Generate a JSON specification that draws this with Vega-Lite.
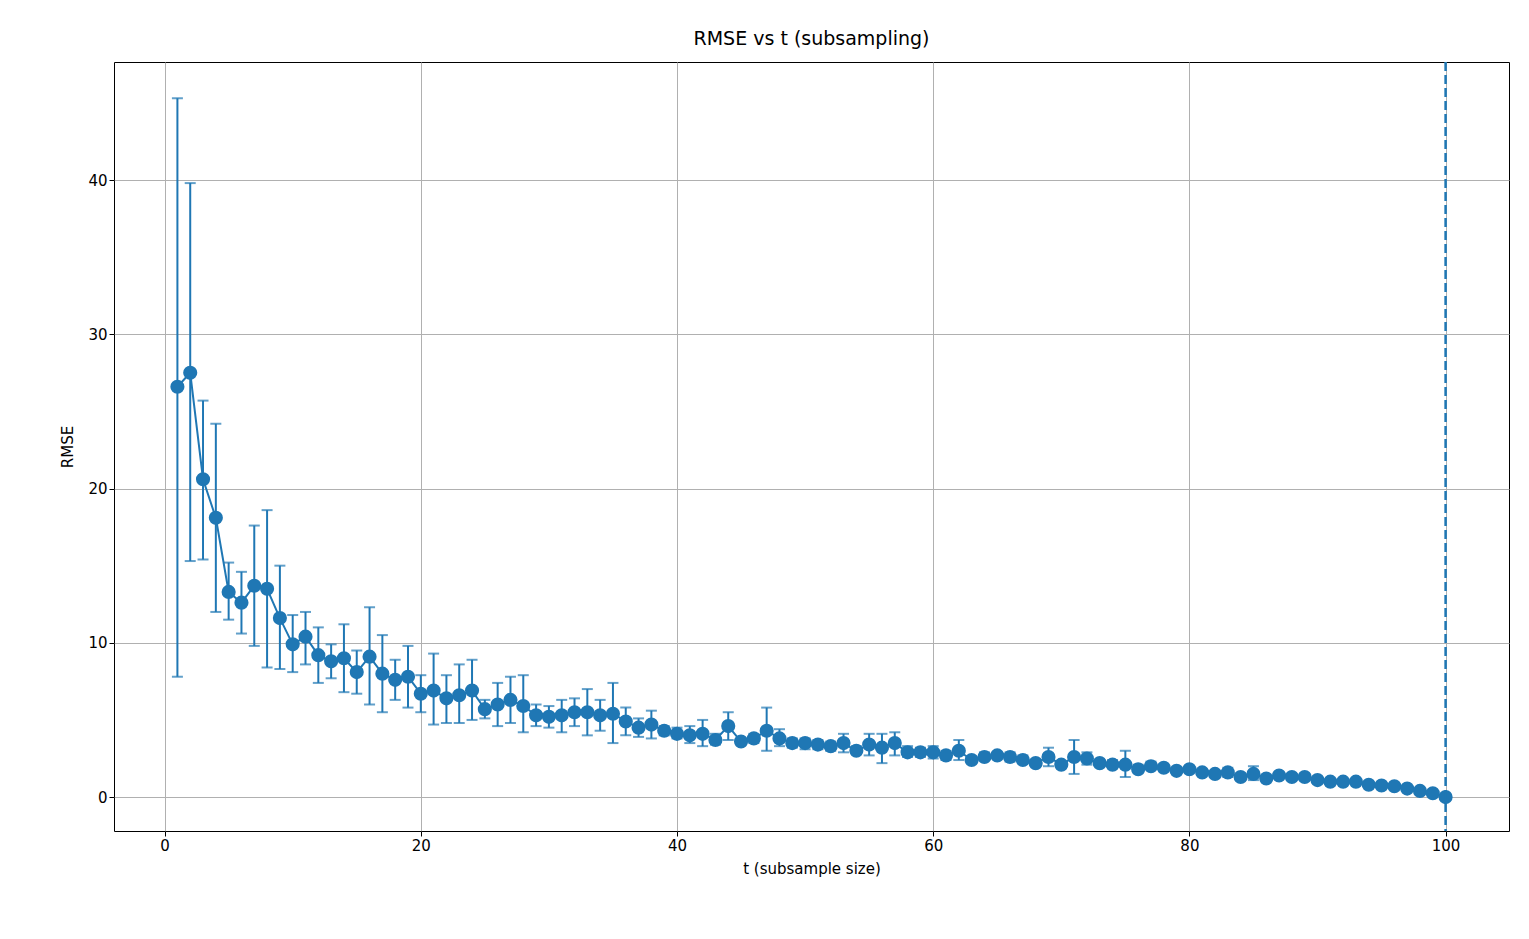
{"$schema":"https://vega.github.io/schema/vega-lite/v6.json","width":1395,"height":769,"padding":{"left":114,"top":62,"right":20,"bottom":108},"autosize":"none",
"title":{"text":"RMSE vs t (subsampling)","fontSize":19,"font":"DejaVu Sans","fontWeight":"normal","offset":12},
"config":{"view":{"stroke":"black","strokeWidth":1},"axis":{"grid":true,"gridColor":"#b0b0b0","gridWidth":1,"domain":false,"tickColor":"black","tickSize":5,"labelFont":"DejaVu Sans","labelFontSize":15,"labelColor":"black","titleFont":"DejaVu Sans","titleFontSize":15,"titleFontWeight":"normal","titleColor":"black"}},
"data":{"values":[
{"t":1,"m":26.6,"lo":7.8,"hi":45.3},{"t":2,"m":27.5,"lo":15.3,"hi":39.8},{"t":3,"m":20.6,"lo":15.4,"hi":25.7},{"t":4,"m":18.1,"lo":12.0,"hi":24.2},{"t":5,"m":13.3,"lo":11.5,"hi":15.2},{"t":6,"m":12.6,"lo":10.6,"hi":14.6},{"t":7,"m":13.7,"lo":9.8,"hi":17.6},{"t":8,"m":13.5,"lo":8.4,"hi":18.6},{"t":9,"m":11.6,"lo":8.3,"hi":15.0},{"t":10,"m":9.9,"lo":8.1,"hi":11.8},
{"t":11,"m":10.4,"lo":8.6,"hi":12.0},{"t":12,"m":9.2,"lo":7.4,"hi":11.0},{"t":13,"m":8.8,"lo":7.7,"hi":9.9},{"t":14,"m":9.0,"lo":6.8,"hi":11.2},{"t":15,"m":8.1,"lo":6.7,"hi":9.5},{"t":16,"m":9.1,"lo":6.0,"hi":12.3},{"t":17,"m":8.0,"lo":5.5,"hi":10.5},{"t":18,"m":7.6,"lo":6.3,"hi":8.9},{"t":19,"m":7.8,"lo":5.8,"hi":9.8},{"t":20,"m":6.7,"lo":5.5,"hi":7.9},
{"t":21,"m":6.9,"lo":4.7,"hi":9.3},{"t":22,"m":6.4,"lo":4.8,"hi":7.9},{"t":23,"m":6.6,"lo":4.8,"hi":8.6},{"t":24,"m":6.9,"lo":5.0,"hi":8.9},{"t":25,"m":5.7,"lo":5.1,"hi":6.3},{"t":26,"m":6.0,"lo":4.6,"hi":7.4},{"t":27,"m":6.3,"lo":4.8,"hi":7.8},{"t":28,"m":5.9,"lo":4.2,"hi":7.9},{"t":29,"m":5.3,"lo":4.6,"hi":6.0},{"t":30,"m":5.2,"lo":4.5,"hi":5.9},
{"t":31,"m":5.3,"lo":4.2,"hi":6.3},{"t":32,"m":5.5,"lo":4.6,"hi":6.4},{"t":33,"m":5.5,"lo":4.0,"hi":7.0},{"t":34,"m":5.3,"lo":4.3,"hi":6.3},{"t":35,"m":5.4,"lo":3.5,"hi":7.4},{"t":36,"m":4.9,"lo":4.0,"hi":5.8},{"t":37,"m":4.5,"lo":3.9,"hi":5.1},{"t":38,"m":4.7,"lo":3.8,"hi":5.6},{"t":39,"m":4.3,"lo":4.0,"hi":4.6},{"t":40,"m":4.1,"lo":3.8,"hi":4.5},
{"t":41,"m":4.0,"lo":3.5,"hi":4.6},{"t":42,"m":4.1,"lo":3.3,"hi":5.0},{"t":43,"m":3.7,"lo":3.4,"hi":4.1},{"t":44,"m":4.6,"lo":3.7,"hi":5.5},{"t":45,"m":3.6,"lo":3.4,"hi":3.8},{"t":46,"m":3.8,"lo":3.5,"hi":4.1},{"t":47,"m":4.3,"lo":3.0,"hi":5.8},{"t":48,"m":3.8,"lo":3.3,"hi":4.4},{"t":49,"m":3.5,"lo":3.2,"hi":3.8},{"t":50,"m":3.5,"lo":3.1,"hi":3.8},
{"t":51,"m":3.4,"lo":3.1,"hi":3.7},{"t":52,"m":3.3,"lo":3.0,"hi":3.6},{"t":53,"m":3.5,"lo":2.9,"hi":4.1},{"t":54,"m":3.0,"lo":2.8,"hi":3.3},{"t":55,"m":3.4,"lo":2.7,"hi":4.1},{"t":56,"m":3.2,"lo":2.2,"hi":4.1},{"t":57,"m":3.5,"lo":2.7,"hi":4.2},{"t":58,"m":2.9,"lo":2.6,"hi":3.3},{"t":59,"m":2.9,"lo":2.6,"hi":3.2},{"t":60,"m":2.9,"lo":2.5,"hi":3.3},
{"t":61,"m":2.7,"lo":2.4,"hi":3.0},{"t":62,"m":3.0,"lo":2.4,"hi":3.7},{"t":63,"m":2.4,"lo":2.3,"hi":2.6},{"t":64,"m":2.6,"lo":2.4,"hi":2.9},{"t":65,"m":2.7,"lo":2.5,"hi":2.9},{"t":66,"m":2.6,"lo":2.3,"hi":2.9},{"t":67,"m":2.4,"lo":2.2,"hi":2.7},{"t":68,"m":2.2,"lo":2.1,"hi":2.4},{"t":69,"m":2.6,"lo":2.0,"hi":3.2},{"t":70,"m":2.1,"lo":1.9,"hi":2.3},
{"t":71,"m":2.6,"lo":1.5,"hi":3.7},{"t":72,"m":2.5,"lo":2.1,"hi":2.9},{"t":73,"m":2.2,"lo":2.0,"hi":2.4},{"t":74,"m":2.1,"lo":1.9,"hi":2.4},{"t":75,"m":2.1,"lo":1.3,"hi":3.0},{"t":76,"m":1.8,"lo":1.6,"hi":2.1},{"t":77,"m":2.0,"lo":1.8,"hi":2.3},{"t":78,"m":1.9,"lo":1.7,"hi":2.1},{"t":79,"m":1.7,"lo":1.6,"hi":1.9},{"t":80,"m":1.8,"lo":1.6,"hi":2.0},
{"t":81,"m":1.6,"lo":1.5,"hi":1.8},{"t":82,"m":1.5,"lo":1.4,"hi":1.7},{"t":83,"m":1.6,"lo":1.3,"hi":1.9},{"t":84,"m":1.3,"lo":1.2,"hi":1.5},{"t":85,"m":1.5,"lo":1.1,"hi":2.0},{"t":86,"m":1.2,"lo":1.1,"hi":1.4},{"t":87,"m":1.4,"lo":1.3,"hi":1.6},{"t":88,"m":1.3,"lo":1.2,"hi":1.5},{"t":89,"m":1.3,"lo":1.1,"hi":1.5},{"t":90,"m":1.1,"lo":1.0,"hi":1.3},
{"t":91,"m":1.0,"lo":0.9,"hi":1.1},{"t":92,"m":1.0,"lo":0.9,"hi":1.1},{"t":93,"m":1.0,"lo":0.9,"hi":1.1},{"t":94,"m":0.8,"lo":0.7,"hi":0.9},{"t":95,"m":0.75,"lo":0.65,"hi":0.85},{"t":96,"m":0.7,"lo":0.6,"hi":0.8},{"t":97,"m":0.55,"lo":0.5,"hi":0.6},{"t":98,"m":0.4,"lo":0.35,"hi":0.45},{"t":99,"m":0.25,"lo":0.2,"hi":0.3},{"t":100,"m":0.0,"lo":0.0,"hi":0.0}
]},
"encoding":{"x":{"field":"t","type":"quantitative","scale":{"domain":[-3.95,104.95],"nice":false,"zero":false},"axis":{"values":[0,20,40,60,80,100],"title":"t (subsample size)","titlePadding":8}}},
"layer":[
{"mark":{"type":"rule","color":"#1f77b4","strokeWidth":2},"encoding":{"y":{"field":"lo","type":"quantitative","scale":{"domain":[-2.2,47.65],"nice":false,"zero":false},"axis":{"values":[0,10,20,30,40],"title":"RMSE","titlePadding":12}},"y2":{"field":"hi"}}},
{"mark":{"type":"tick","color":"#1f77b4","thickness":2,"size":11,"orient":"horizontal"},"encoding":{"y":{"field":"lo","type":"quantitative"}}},
{"mark":{"type":"tick","color":"#1f77b4","thickness":2,"size":11,"orient":"horizontal"},"encoding":{"y":{"field":"hi","type":"quantitative"}}},
{"mark":{"type":"line","color":"#1f77b4","strokeWidth":2},"encoding":{"y":{"field":"m","type":"quantitative"}}},
{"mark":{"type":"point","filled":true,"opacity":1,"color":"#1f77b4","size":200},"encoding":{"y":{"field":"m","type":"quantitative"}}},
{"data":{"values":[{"v":100}]},"mark":{"type":"rule","color":"#1f77b4","strokeWidth":2.5,"strokeDash":[9,4]},"encoding":{"x":{"field":"v","type":"quantitative"}}}
]}
